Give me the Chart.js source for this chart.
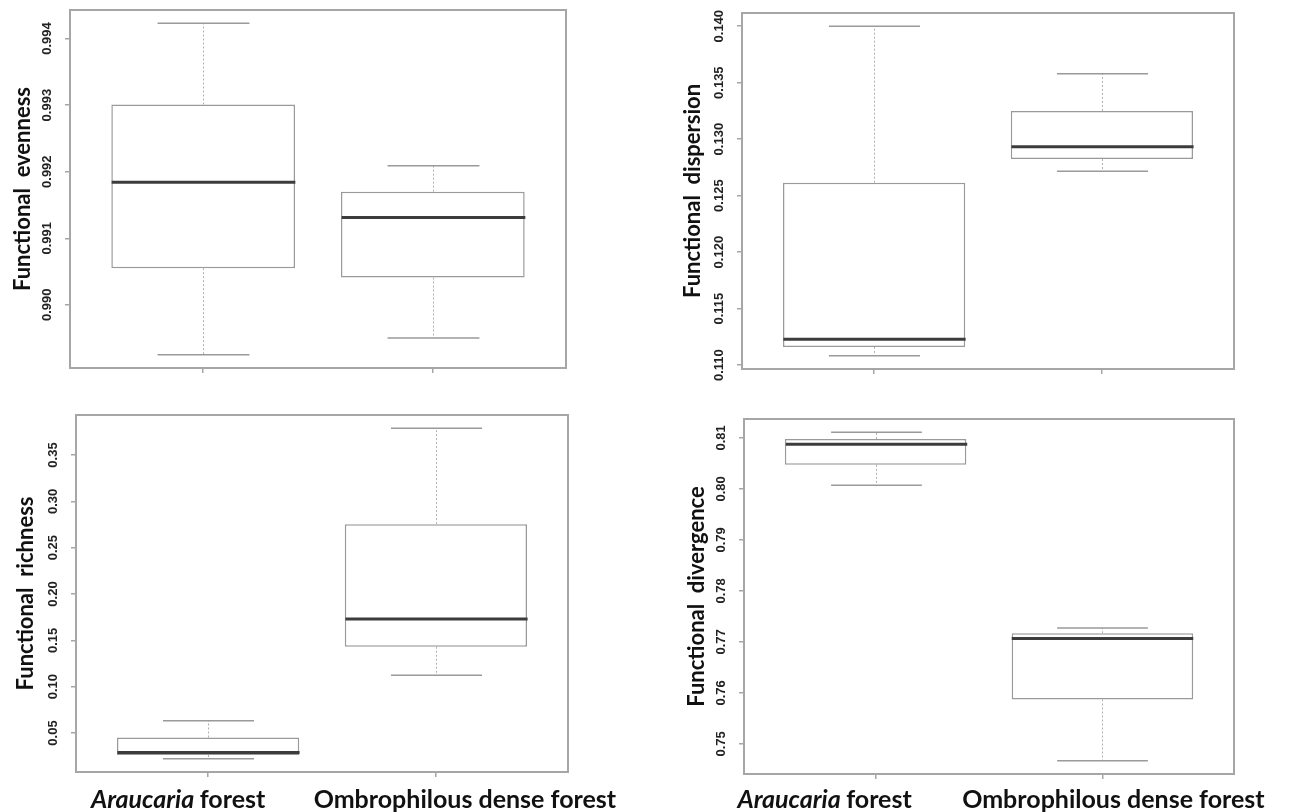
<!DOCTYPE html>
<html>
<head>
<meta charset="utf-8">
<script src="https://cdn.jsdelivr.net/npm/chart.js@4.4.0/dist/chart.umd.min.js"></script>
<style>
  body { margin: 0; background: #fff; width: 1290px; height: 812px; position: relative; overflow: hidden; }
  canvas { position: absolute; }
</style>
</head>
<body>
<canvas id="evenness" width="645" height="400" style="left:0;top:0"></canvas>
<canvas id="dispersion" width="645" height="400" style="left:645px;top:0"></canvas>
<canvas id="richness" width="645" height="412" style="left:0;top:400px"></canvas>
<canvas id="divergence" width="645" height="412" style="left:645px;top:400px"></canvas>
<script>
var forests = ['Araucaria forest', 'Ombrophilous dense forest'];
var italicWords = ['Araucaria'];

// whisker low, Q1, median, Q3, whisker high (Araucaria, Ombrophilous)
var evennessLow = [0.98925, 0.98950];
var evennessQ1 = [0.99055, 0.99041];
var evennessMed = [0.99184, 0.99131];
var evennessQ3 = [0.99301, 0.99170];
var evennessHigh = [0.99423, 0.99209];
var evennessTicks = ['0.990', '0.991', '0.992', '0.993', '0.994'];

var dispersionLow = [0.11082, 0.12715];
var dispersionQ1 = [0.11161, 0.12824];
var dispersionMed = [0.11229, 0.12932];
var dispersionQ3 = [0.12615, 0.13250];
var dispersionHigh = [0.14000, 0.13579];
var dispersionTicks = ['0.110', '0.115', '0.120', '0.125', '0.130', '0.135', '0.140'];

var richnessLow = [0.0222, 0.1122];
var richnessQ1 = [0.0262, 0.1431];
var richnessMed = [0.0290, 0.1729];
var richnessQ3 = [0.0452, 0.2754];
var richnessHigh = [0.0633, 0.3789];
var richnessTicks = ['0.05', '0.10', '0.15', '0.20', '0.25', '0.30', '0.35'];

var divergenceLow = [0.80073, 0.74667];
var divergenceQ1 = [0.80471, 0.75870];
var divergenceMed = [0.80876, 0.77066];
var divergenceQ3 = [0.80980, 0.77170];
var divergenceHigh = [0.81112, 0.77270];
var divergenceTicks = ['0.75', '0.76', '0.77', '0.78', '0.79', '0.80', '0.81'];

var frameColor = '#a6a6a6';
var boxColor = '#9a9a9a';

var boxParts = {
  id: 'boxParts',
  afterDatasetsDraw: function(chart) {
    var ctx = chart.ctx, xs = chart.scales.x, ys = chart.scales.y;
    var ds = chart.data.datasets[0];
    var bars = chart.getDatasetMeta(0).data;
    ctx.save();
    for (var i = 0; i < ds.data.length; i++) {
      var cx = Math.round(xs.getPixelForValue(i + 1)) + 0.5;
      var half = bars[i].width / 2;
      var yLo = ys.getPixelForValue(ds.low[i]);
      var yHi = ys.getPixelForValue(ds.high[i]);
      var yQ1 = ys.getPixelForValue(ds.data[i].y[0]);
      var yQ3 = ys.getPixelForValue(ds.data[i].y[1]);
      var yMed = ys.getPixelForValue(ds.med[i]);
      // dotted whiskers
      ctx.strokeStyle = '#b0b0b0';
      ctx.lineWidth = 1;
      ctx.setLineDash([2, 2]);
      ctx.beginPath();
      ctx.moveTo(cx, yQ3); ctx.lineTo(cx, yHi);
      ctx.moveTo(cx, yQ1); ctx.lineTo(cx, yLo);
      ctx.stroke();
      // caps
      ctx.setLineDash([]);
      ctx.strokeStyle = boxColor;
      ctx.lineWidth = 1.5;
      ctx.beginPath();
      ctx.moveTo(cx - half / 2, yHi); ctx.lineTo(cx + half / 2, yHi);
      ctx.moveTo(cx - half / 2, yLo); ctx.lineTo(cx + half / 2, yLo);
      ctx.stroke();
      // median
      ctx.strokeStyle = '#3c3c3c';
      ctx.lineWidth = 3;
      ctx.beginPath();
      ctx.moveTo(cx - half, yMed); ctx.lineTo(cx + half, yMed);
      ctx.stroke();
    }
    ctx.restore();
  },
  afterDraw: function(chart) {
    var ctx = chart.ctx, a = chart.chartArea, ys = chart.scales.y, xs = chart.scales.x;
    var ds = chart.data.datasets[0];
    ctx.save();
    ctx.strokeStyle = frameColor;
    ctx.lineWidth = 2;
    ctx.strokeRect(a.left, a.top, a.right - a.left, a.bottom - a.top);

    // rotated y tick labels
    ctx.fillStyle = '#222';
    ctx.font = 'bold 13px "Liberation Sans"';
    ctx.textAlign = 'center';
    ctx.textBaseline = 'middle';
    ds.tickText.forEach(function(t) {
      ctx.save();
      ctx.translate(a.left - 23, ys.getPixelForValue(parseFloat(t)));
      ctx.rotate(-Math.PI / 2);
      ctx.fillText(t, 0, 0);
      ctx.restore();
    });

    // category names under the bottom panels
    if (ds.nameShift) {
      ctx.fillStyle = '#111';
      ctx.textAlign = 'left';
      ctx.textBaseline = 'alphabetic';
      forests.forEach(function(name, i) {
        var words = name.split(' ');
        var fonts = words.map(function(w) {
          return (italicWords.indexOf(w) >= 0 ? 'italic ' : '') + 'bold 25px Lato';
        });
        var total = 0, widths = [];
        words.forEach(function(w, k) {
          ctx.font = fonts[k];
          widths.push(ctx.measureText(w + (k < words.length - 1 ? ' ' : '')).width);
          total += widths[k];
        });
        var x = xs.getPixelForValue(i + 1) + ds.nameShift[i] - total / 2;
        words.forEach(function(w, k) {
          ctx.font = fonts[k];
          ctx.fillText(w, x, 408);
          x += widths[k];
        });
      });
    }
    ctx.restore();
  }
};

function boxChart(id, title, low, q1, med, q3, high, ticks, pad, xHeight, titlePad, nameShift) {
  var lo = Math.min.apply(null, low), hi = Math.max.apply(null, high);
  var ext = (hi - lo) * 0.04;
  var tickVals = ticks.map(parseFloat);
  return new Chart(document.getElementById(id), {
    type: 'bar',
    data: {
      datasets: [{
        data: forests.map(function(f, i) { return { x: i + 1, y: [q1[i], q3[i]] }; }),
        low: low, med: med, high: high, tickText: ticks, nameShift: nameShift,
        backgroundColor: '#ffffff',
        borderColor: boxColor,
        borderWidth: 1.5,
        borderSkipped: false,
        barPercentage: 0.8,
        categoryPercentage: 1.0
      }]
    },
    options: {
      responsive: false,
      animation: false,
      events: [],
      layout: { padding: pad },
      plugins: { legend: { display: false }, tooltip: { enabled: false } },
      scales: {
        x: {
          type: 'linear', min: 0.42, max: 2.58, offset: false,
          afterBuildTicks: function(s) { s.ticks = [{ value: 1 }, { value: 2 }]; },
          afterFit: function(s) { s.height = xHeight; },
          ticks: { display: false },
          border: { display: false },
          grid: { offset: false, drawOnChartArea: false, drawTicks: true, tickLength: 5, color: frameColor, lineWidth: 1.5 }
        },
        y: {
          min: lo - ext, max: hi + ext,
          afterBuildTicks: function(s) { s.ticks = tickVals.map(function(v) { return { value: v }; }); },
          afterFit: function(s) { s.width = 70; },
          ticks: { display: false },
          border: { display: false },
          grid: { drawOnChartArea: false, drawTicks: true, tickLength: 5, color: frameColor, lineWidth: 1.5 },
          title: {
            display: true, text: title, color: '#111',
            font: { family: 'Lato', size: 22, weight: 'bold' },
            padding: { top: titlePad, bottom: 0 }
          }
        }
      }
    },
    plugins: [boxParts]
  });
}

boxChart('evenness', 'Functional  evenness', evennessLow, evennessQ1, evennessMed, evennessQ3, evennessHigh,
  evennessTicks, { left: 0, top: 10, right: 79, bottom: 0 }, 32, 10, null);
boxChart('dispersion', 'Functional  dispersion', dispersionLow, dispersionQ1, dispersionMed, dispersionQ3, dispersionHigh,
  dispersionTicks, { left: 27, top: 13, right: 56, bottom: 0 }, 31, 8, null);
boxChart('richness', 'Functional  richness', richnessLow, richnessQ1, richnessMed, richnessQ3, richnessHigh,
  richnessTicks, { left: 6, top: 15, right: 77, bottom: 0 }, 40, 7, [-30, 29]);
boxChart('divergence', 'Functional  divergence', divergenceLow, divergenceQ1, divergenceMed, divergenceQ3, divergenceHigh,
  divergenceTicks, { left: 29, top: 19, right: 56, bottom: 0 }, 38, 10, [-51, 11]);
</script>
</body>
</html>
